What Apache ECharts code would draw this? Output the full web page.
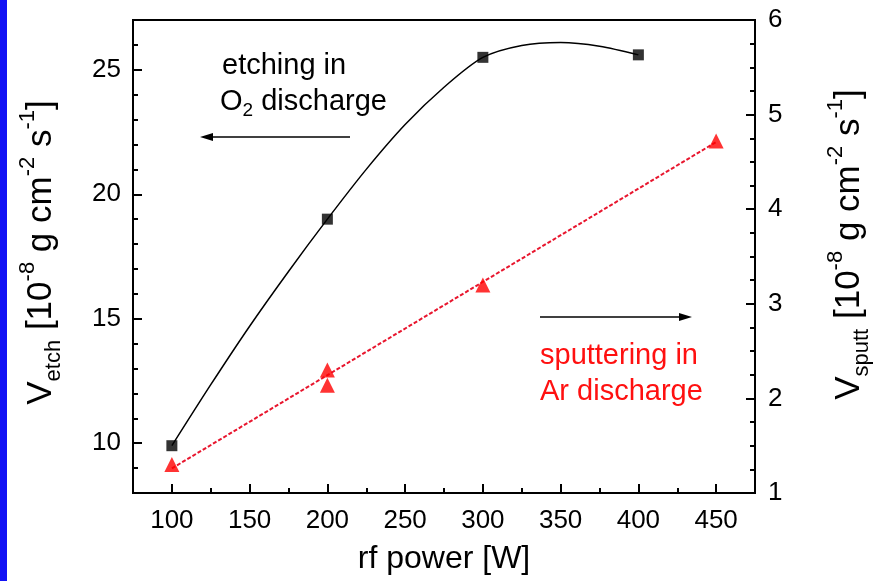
<!DOCTYPE html>
<html>
<head>
<meta charset="utf-8">
<script src="https://cdn.jsdelivr.net/npm/echarts@6/dist/echarts.min.js"></script>
<style>
html, body { margin: 0; padding: 0; background: #fff; }
#chart { width: 881px; height: 581px; }
</style>
</head>
<body>
<div id="chart"></div>
<script>
// rf power [W] / etch rate (left axis)
var etchPower = [100, 200, 300, 400];
var etchRate = [9.9, 19.0, 25.5, 25.6];
// guide curve through the etch points
var curvePower = [100, 125, 150, 175, 200, 225, 250, 275, 300, 325, 350, 375, 400];
var curveRate = [9.9, 12.35, 14.7, 16.9, 19.0, 21.0, 22.8, 24.3, 25.5, 25.98, 26.1, 25.95, 25.6];
// rf power [W] / sputter rate (right axis)
var sputtPower = [100, 200, 200, 300, 450];
var sputtRate = [1.3, 2.3, 2.14, 3.2, 4.72];
// linear fit, end points
var fitPower = [100, 450];
var fitRate = [1.26, 4.71];
// ticks
var xMajor = [100, 150, 200, 250, 300, 350, 400, 450];
var yLeftMajor = [10, 15, 20, 25];

var FONT = 'Liberation Sans';

function pairs(xs, ys) {
	var out = [];
	for (var i = 0; i < xs.length; i++) {
		out.push([xs[i], ys[i]]);
	}
	return out;
}

var titleRich = {
	m: { fontSize: 35, fontFamily: FONT, color: '#000', lineHeight: 48 },
	sub: { fontSize: 22, fontFamily: FONT, color: '#000', verticalAlign: 'bottom', lineHeight: 22 },
	sup: { fontSize: 22, fontFamily: FONT, color: '#000', verticalAlign: 'top', lineHeight: 22 }
};

var chart = echarts.init(document.getElementById('chart'));
var option = {
	backgroundColor: '#fff',
	animation: false,
	grid: {
		left: 133, right: 118, top: 20, bottom: 88,
		show: true, borderColor: '#000', borderWidth: 2, backgroundColor: 'transparent'
	},
	xAxis: [{
		type: 'value', min: 75, max: 475, position: 'bottom',
		axisLine: { show: true, lineStyle: { color: '#000', width: 2 } },
		axisTick: { show: true, inside: true, length: 9, customValues: xMajor, lineStyle: { color: '#000', width: 2 } },
		axisLabel: { customValues: xMajor, margin: 15, fontSize: 26, fontFamily: FONT, color: '#000' },
		splitLine: { show: false },
		name: 'rf power [W]', nameLocation: 'middle', nameGap: 50,
		nameTextStyle: { fontSize: 32, fontFamily: FONT, color: '#000' }
	}, {
		type: 'value', min: 75, max: 475, interval: 25, position: 'bottom',
		axisLine: { show: false },
		axisTick: { show: true, inside: true, length: 5, lineStyle: { color: '#000', width: 2 } },
		axisLabel: { show: false },
		splitLine: { show: false }
	}],
	yAxis: [{
		type: 'value', min: 8, max: 27, position: 'left',
		axisLine: { show: true, lineStyle: { color: '#000', width: 2 } },
		axisTick: { show: true, inside: true, length: 9, customValues: yLeftMajor, lineStyle: { color: '#000', width: 2 } },
		axisLabel: { customValues: yLeftMajor, margin: 12, fontSize: 26, fontFamily: FONT, color: '#000' },
		splitLine: { show: false },
		name: '{m|V}{sub|etch}{m| [10}{sup|-8}{m| g cm}{sup|-2}{m| s}{sup|-1}{m|]}',
		nameLocation: 'middle', nameRotate: 90, nameGap: 68,
		nameTextStyle: { rich: titleRich, padding: [0, 0, 0, 8] }
	}, {
		type: 'value', min: 8, max: 27, interval: 1, position: 'left',
		axisLine: { show: false },
		axisTick: { show: true, inside: true, length: 5, lineStyle: { color: '#000', width: 2 } },
		axisLabel: { show: false },
		splitLine: { show: false }
	}, {
		type: 'value', min: 1, max: 6, interval: 1, position: 'right',
		axisLine: { show: true, lineStyle: { color: '#000', width: 2 } },
		axisTick: { show: true, inside: true, length: 9, lineStyle: { color: '#000', width: 2 } },
		minorTick: { show: true, splitNumber: 4, length: 5, lineStyle: { color: '#000', width: 2 } },
		axisLabel: { margin: 13, fontSize: 26, fontFamily: FONT, color: '#000' },
		splitLine: { show: false },
		minorSplitLine: { show: false },
		name: '{m|V}{sub|sputt}{m| [10}{sup|-8}{m| g cm}{sup|-2}{m| s}{sup|-1}{m|]}',
		nameLocation: 'middle', nameRotate: 90, nameGap: 70,
		nameTextStyle: { rich: titleRich, padding: [0, 0, 0, 24] }
	}],
	series: [{
		name: 'etch curve', type: 'line', xAxisIndex: 0, yAxisIndex: 0,
		data: pairs(curvePower, curveRate),
		smooth: 0.3, showSymbol: false, symbol: 'none',
		lineStyle: { color: '#000', width: 1.5 },
		z: 2
	}, {
		name: 'etch', type: 'scatter', xAxisIndex: 0, yAxisIndex: 0,
		data: pairs(etchPower, etchRate),
		symbol: 'rect', symbolSize: 11,
		itemStyle: { color: '#000' },
		z: 3
	}, {
		name: 'sputt fit', type: 'line', xAxisIndex: 0, yAxisIndex: 2,
		data: pairs(fitPower, fitRate),
		showSymbol: false, symbol: 'none',
		lineStyle: { color: '#e8162e', width: 2, type: [4, 2] },
		z: 2
	}, {
		name: 'sputt', type: 'scatter', xAxisIndex: 0, yAxisIndex: 2,
		data: pairs(sputtPower, sputtRate),
		symbol: 'triangle', symbolSize: 15,
		itemStyle: { color: '#ff0000' },
		z: 4
	}],
	graphic: [
		// blue edge on the left
		{ type: 'rect', shape: { x: 0, y: 0, width: 7, height: 581 }, style: { fill: '#1212f5' }, z: 10 },
		{ type: 'text', x: 222, y: 66, style: { text: 'etching in', font: '29px "Liberation Sans"', fill: '#000', verticalAlign: 'middle' } },
		{ type: 'text', x: 220, y: 102, style: {
			text: '{a|O}{s|2}{a| discharge}', verticalAlign: 'middle',
			rich: {
				a: { fontSize: 29, fontFamily: FONT, fill: '#000', lineHeight: 36 },
				s: { fontSize: 19, fontFamily: FONT, fill: '#000', verticalAlign: 'bottom', lineHeight: 19 }
			}
		} },
		{ type: 'line', shape: { x1: 350, y1: 137, x2: 210, y2: 137 }, style: { stroke: '#000', lineWidth: 1.5 } },
		{ type: 'polygon', shape: { points: [[200, 137], [213, 133], [213, 141]] }, style: { fill: '#000' } },
		{ type: 'line', shape: { x1: 540, y1: 317, x2: 682, y2: 317 }, style: { stroke: '#000', lineWidth: 1.5 } },
		{ type: 'polygon', shape: { points: [[692, 317], [679, 313], [679, 321]] }, style: { fill: '#000' } },
		{ type: 'text', x: 540, y: 356, style: { text: 'sputtering in', font: '29px "Liberation Sans"', fill: '#ff1010', verticalAlign: 'middle' } },
		{ type: 'text', x: 540, y: 392, style: { text: 'Ar discharge', font: '29px "Liberation Sans"', fill: '#ff1010', verticalAlign: 'middle' } }
	]
};
chart.setOption(option);
</script>
</body>
</html>
